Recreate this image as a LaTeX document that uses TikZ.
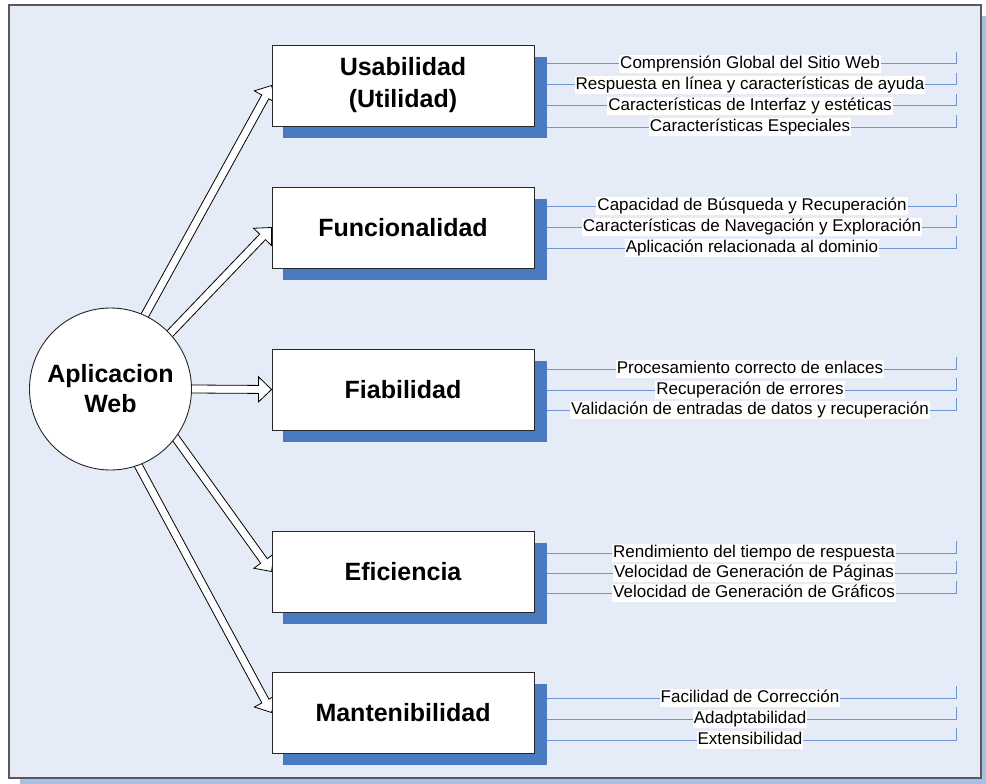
\documentclass[tikz,border=0pt]{standalone}
\usepackage{fontspec}
\setmainfont{Liberation Sans}
\usetikzlibrary{calc}
\pgfdeclarelayer{back}
\pgfdeclarelayer{mid}
\pgfdeclarelayer{shade}
\pgfsetlayers{back,mid,shade,main}

\definecolor{panelfill}{HTML}{E6ECF7}
\definecolor{panelshade}{HTML}{A8BFE2}
\definecolor{boxshade}{HTML}{4A7BC0}
\definecolor{leafblue}{HTML}{6F95D2}

\tikzset{
  catbox/.style={draw=black!85, line width=0.9pt, fill=white,
    minimum width=262pt, minimum height=81pt, inner sep=0pt,
    font=\fontsize{25}{32}\selectfont\bfseries, align=center},
  hub/.style={circle, draw=black!85, line width=0.9pt, fill=white,
    minimum size=162pt, inner sep=0pt,
    font=\fontsize{25}{30}\selectfont\bfseries, align=center},
  leaf/.style={fill=white, inner xsep=1pt, inner ysep=0.5pt,
    font=\fontsize{17}{19}\selectfont, text height=13pt, text depth=4pt},
  leafline/.style={draw=leafblue, line width=1pt},
  hollow/.style={draw=black, line width=0.8pt, fill=white, line join=miter},
}

% hollow block arrow from a point on the hub border to a box anchor
\newcommand\hollowarrow[2]{%
  \coordinate (ha-s) at ($(#2)!1.15!(#1)$);
  \coordinate (ha-b) at ($(#2)!13pt!(#1)$);
  \draw[hollow] ($(ha-s)!4pt!90:(#2)$) -- ($(ha-b)!4pt!90:(#2)$)
    -- ($(ha-b)!12.5pt!90:(#2)$) -- (#2) -- ($(ha-b)!12.5pt!-90:(#2)$)
    -- ($(ha-b)!4pt!-90:(#2)$) -- ($(ha-s)!4pt!-90:(#2)$) -- cycle;}

% one sub-criterion: label on a blue line that leaves the box and ends in a tick
\newcommand\leafrow[4]{%
  \node[leaf] (#1-#3) at (#2,#3) {#4};
  \begin{pgfonlayer}{mid}
    \draw[leafline] (#1.east |- #1-#3.center) -- (#1-#3.center -| tickx) -- ++(0,-12);
  \end{pgfonlayer}}

% drop shadow of a box
\newcommand\boxshadow[1]{%
  \begin{pgfonlayer}{shade}
    \fill[boxshade] ($(#1.south west)+(11,12)$) rectangle ($(#1.north east)+(13,12)$);
  \end{pgfonlayer}}

\begin{document}
\begin{tikzpicture}[x=1pt, y=-1pt]
\useasboundingbox (0,0) rectangle (986,784);
\coordinate (tickx) at (956,0);

% panel
\begin{pgfonlayer}{back}
  \fill[panelshade] (20,16) rectangle (986,784);
  \filldraw[fill=panelfill, draw=black!65, line width=1.3pt] (9,5) rectangle (981,778);
\end{pgfonlayer}

% hub
\node[hub] (app) at (110.5,389) {Aplicacion\\Web};

% categories
\node[catbox] (u)  at (403,85.5)  {Usabilidad\\(Utilidad)};
\node[catbox] (f)  at (403,227.5) {Funcionalidad};
\node[catbox] (fi) at (403,389.5) {Fiabilidad};
\node[catbox] (e)  at (403,571.5) {Eficiencia};
\node[catbox] (m)  at (403,712.5) {Mantenibilidad};
\boxshadow{u}\boxshadow{f}\boxshadow{fi}\boxshadow{e}\boxshadow{m}

% arrows from the hub
\begin{pgfonlayer}{mid}
  \hollowarrow{app.65}{u.west}
  \hollowarrow{app.43}{f.west}
  \hollowarrow{app.0}{fi.west}
  \hollowarrow{app.-37.5}{e.west}
  \hollowarrow{app.-70}{m.west}
\end{pgfonlayer}

% sub-criteria
\leafrow{u}{750}{64}{Comprensión Global del Sitio Web}
\leafrow{u}{750}{85}{Respuesta en línea y características de ayuda}
\leafrow{u}{750}{106}{Características de Interfaz y estéticas}
\leafrow{u}{750}{127}{Características Especiales}

\leafrow{f}{752}{206}{Capacidad de Búsqueda y Recuperación}
\leafrow{f}{752}{227}{Características de Navegación y Exploración}
\leafrow{f}{752}{248}{Aplicación relacionada al dominio}

\leafrow{fi}{750}{369}{Procesamiento correcto de enlaces}
\leafrow{fi}{750}{390}{Recuperación de errores}
\leafrow{fi}{750}{410}{Validación de entradas de datos y recuperación}

\leafrow{e}{754}{553}{Rendimiento del tiempo de respuesta}
\leafrow{e}{754}{573}{Velocidad de Generación de Páginas}
\leafrow{e}{754}{593}{Velocidad de Generación de Gráficos}

\leafrow{m}{750}{698}{Facilidad de Corrección}
\leafrow{m}{750}{719}{Adadptabilidad}
\leafrow{m}{750}{740}{Extensibilidad}
\end{tikzpicture}
\end{document}
